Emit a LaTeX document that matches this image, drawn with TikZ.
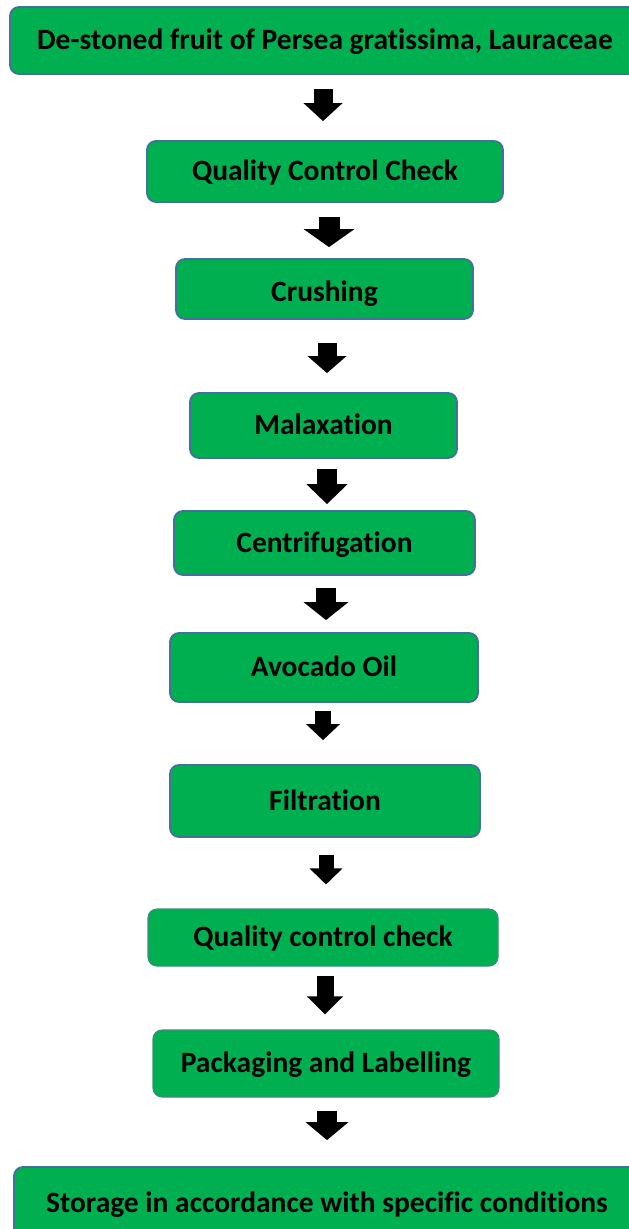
\documentclass[tikz,border=0pt]{standalone}
\usepackage{fontspec}
\setmainfont{Carlito}[Ligatures=NoCommon]
\usetikzlibrary{arrows.meta,calc}
\definecolor{boxgreen}{HTML}{00B050}
\definecolor{boxedge}{HTML}{41719C}
\definecolor{softedge}{HTML}{3F8C82}
\tikzset{
  box/.style={rectangle, rounded corners=9pt, fill=boxgreen, draw=boxedge,
    line width=1.8pt, text=black, inner sep=0pt, align=center,
    text height=23.6pt, text depth=5pt,
    font=\bfseries\fontsize{29.5}{32}\selectfont},
  softbox/.style={box, draw=softedge, line width=1.1pt},
  flow/.style n args={3}{draw=black, line width=#1pt,
    -{Triangle[length=#2pt, width=#3pt]}}
}
\begin{document}
\begin{tikzpicture}[x=1pt, y=-1pt]
\useasboundingbox (0,0) rectangle (629,1229);
\clip (0,0) rectangle (629,1229);
\fill[white] (0,0) rectangle (629,1229);
\node[box, minimum width=630pt, minimum height=67pt] (n1) at (325,40.5) {De-stoned fruit of Persea gratissima, Lauraceae};
\node[box, minimum width=356pt, minimum height=61pt] (n2) at (325,171.5) {Quality Control Check};
\node[box, minimum width=297pt, minimum height=60pt] (n3) at (324.5,289) {\raisebox{-3pt}{Crushing}};
\node[box, minimum width=267pt, minimum height=65pt] (n4) at (323.5,425.5) {Malaxation};
\node[box, minimum width=301pt, minimum height=64pt] (n5) at (324.5,543) {Centrifugation};
\node[box, minimum width=308pt, minimum height=69pt] (n6) at (324,667.5) {Avocado Oil};
\node[box, minimum width=310pt, minimum height=72pt] (n7) at (325,801) {Filtration};
\node[softbox, minimum width=350pt, minimum height=57pt] (n8) at (323,937.5) {Quality control check};
\node[softbox, minimum width=346pt, minimum height=67pt] (n9) at (326,1063.5) {Packaging and Labelling};
\node[box, minimum width=626pt, minimum height=73pt] (n10) at (327,1203.5) {Storage in accordance with specific conditions};
\draw[flow={19}{18}{38}] ($(n1.south)+(-2,14)$) -- ($(n2.north)+(-2,-19)$);
\draw[flow={21}{18}{50}] ($(n2.south)+(4,14)$) -- ($(n3.north)+(4.5,-11)$);
\draw[flow={19}{17}{38}] ($(n3.south)+(2.5,23)$) -- ($(n4.north)+(3.5,-19)$);
\draw[flow={20}{20}{40}] ($(n4.south)+(3.5,10)$) -- ($(n5.north)+(2.5,-6)$);
\draw[flow={20}{18}{44}] ($(n5.south)+(1.5,12)$) -- ($(n6.north)+(2,-12)$);
\draw[flow={16}{16}{33}] ($(n6.south)+(-1,8)$) -- ($(n7.north)+(-2,-24)$);
\draw[flow={15}{16}{32}] ($(n7.south)+(1,17)$) -- ($(n8.north)+(3,-24)$);
\draw[flow={17}{18}{35}] ($(n8.south)+(2,9)$) -- ($(n9.north)+(-1,-15)$);
\draw[flow={20}{18}{42}] ($(n9.south)+(1,13)$) -- ($(n10.north)+(0,-26)$);
\end{tikzpicture}
\end{document}
